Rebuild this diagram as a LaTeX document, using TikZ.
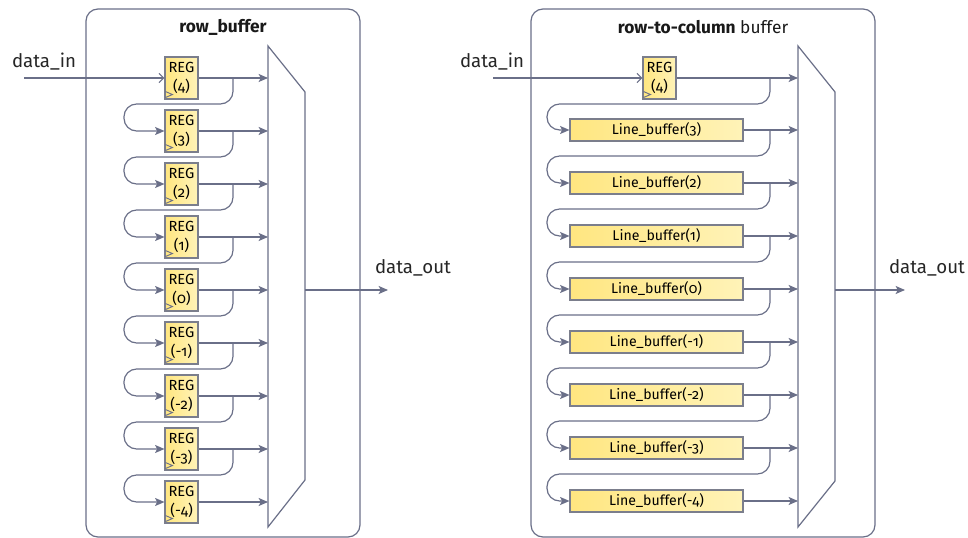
\documentclass[tikz,border=0pt]{standalone}
\usepackage{fontspec}
\setmainfont{Fira Sans}[Numbers=OldStyle]
\usetikzlibrary{arrows.meta,calc}
\definecolor{lc}{HTML}{6A6F88}
\definecolor{bc}{HTML}{7B7E8C}
\definecolor{yA}{HTML}{FFE680}
\definecolor{yB}{HTML}{FFF3B8}
\tikzset{
  wire/.style={draw=lc,line width=0.9pt},
  arr/.style={wire,-{Stealth[length=7pt,width=6pt,inset=1.5pt]}},
  inarr/.style={wire,-{Straight Barb[length=3.5pt,width=7pt]}},
  regbox/.style={draw=bc,line width=0.8pt,left color=yA,right color=yB,
    minimum width=24.75pt,minimum height=31.5pt,inner sep=0pt,align=center,
    font=\fontsize{11}{14.5}\selectfont},
  lbbox/.style={draw=bc,line width=0.8pt,left color=yA,right color=yB,
    minimum width=129.75pt,minimum height=16.5pt,inner sep=0pt,
    font=\fontsize{10.6}{12}\selectfont},
  panel/.style={draw=lc,line width=0.9pt,rounded corners=9pt},
  clk/.style={draw=lc,line width=0.7pt},
  mux/.style={draw=lc,line width=0.9pt,fill=white},
  lbl/.style={font=\fontsize{14}{16}\selectfont,text=black!85},
  ttl/.style={font=\fontsize{13}{15}\selectfont,text=black!90}
}
\begin{document}
\begin{tikzpicture}[x=0.75pt,y=-0.75pt]
\useasboundingbox (0,0) rectangle (968,538);

% ---------------- left panel ----------------
\draw[panel] (86,9) rectangle (360,537);
\node[ttl] (t1) at (223,27) {\bfseries row\_buffer};
\draw[mux] (268,46) -- (305,92) -- (305,480) -- (268,527) -- cycle;
\coordinate (muxL) at (268,0);
\coordinate (brL) at (233,0);
\coordinate (lpL) at (124,0);
\coordinate (moL) at (305,290);
\coordinate (doL) at (388,290);

\foreach \k/\lab in {0/4,1/3,2/2,3/1,4/0,5/-1,6/-2,7/-3,8/-4}{
  \pgfmathsetmacro\yy{78+53*\k}
  \node[regbox] (L\k) at (181.5,\yy) {REG\\(\lab)};
  \draw[clk] ($(L\k.south west)+(1,-8)$) -- ++(7,3) -- ++(-7,3);
  \draw[arr] (L\k.east) -- (L\k.east -| muxL);
}
\foreach \k in {0,...,7}{
  \pgfmathtruncatemacro\j{\k+1}
  \draw[arr,rounded corners=9.5pt] (L\k.east -| brL) |- ($(L\k.east -| lpL)+(0,26)$) |- (L\j.west);
}
\node[lbl,anchor=base] (dinL) at (44,68) {data\_in};
\coordinate (sinL) at (24,78);
\draw[inarr] (sinL) -- (L0.west);
\draw[arr] (moL) -- (doL);
\node[lbl,anchor=base] (doutL) at (413,274) {data\_out};

% ---------------- right panel ----------------
\draw[panel] (531,9) rectangle (875,537);
\node[ttl] (t2) at (703,27) {\bfseries row-to-column\mdseries{} buffer};
\draw[mux] (798,46) -- (835,92) -- (835,481) -- (798,527) -- cycle;
\coordinate (muxR) at (798,0);
\coordinate (brR) at (770,0);
\coordinate (lpR) at (547,0);
\coordinate (moR) at (835,290);
\coordinate (doR) at (905,290);

\node[regbox] (R0) at (659.5,78) {REG\\(4)};
\draw[clk] ($(R0.south west)+(1,-8)$) -- ++(7,3) -- ++(-7,3);
\draw[arr] (R0.east) -- (R0.east -| muxR);
\foreach \k/\lab in {1/3,2/2,3/1,4/0,5/-1,6/-2,7/-3,8/-4}{
  \pgfmathsetmacro\yy{130+53*(\k-1)}
  \node[lbbox] (R\k) at (656.5,\yy) {Line\_buffer(\lab)};
  \draw[arr] (R\k.east) -- (R\k.east -| muxR);
}
\foreach \k in {0,...,7}{
  \pgfmathtruncatemacro\j{\k+1}
  \draw[arr,rounded corners=9.5pt] (R\k.east -| brR) |- ($(R\k.east -| lpR)+(0,26)$) |- (R\j.west);
}
\node[lbl,anchor=base] (dinR) at (492,68) {data\_in};
\coordinate (sinR) at (493,78);
\draw[inarr] (sinR) -- (R0.west);
\draw[arr] (moR) -- (doR);
\node[lbl,anchor=base] (doutR) at (927,274) {data\_out};
\end{tikzpicture}
\end{document}
